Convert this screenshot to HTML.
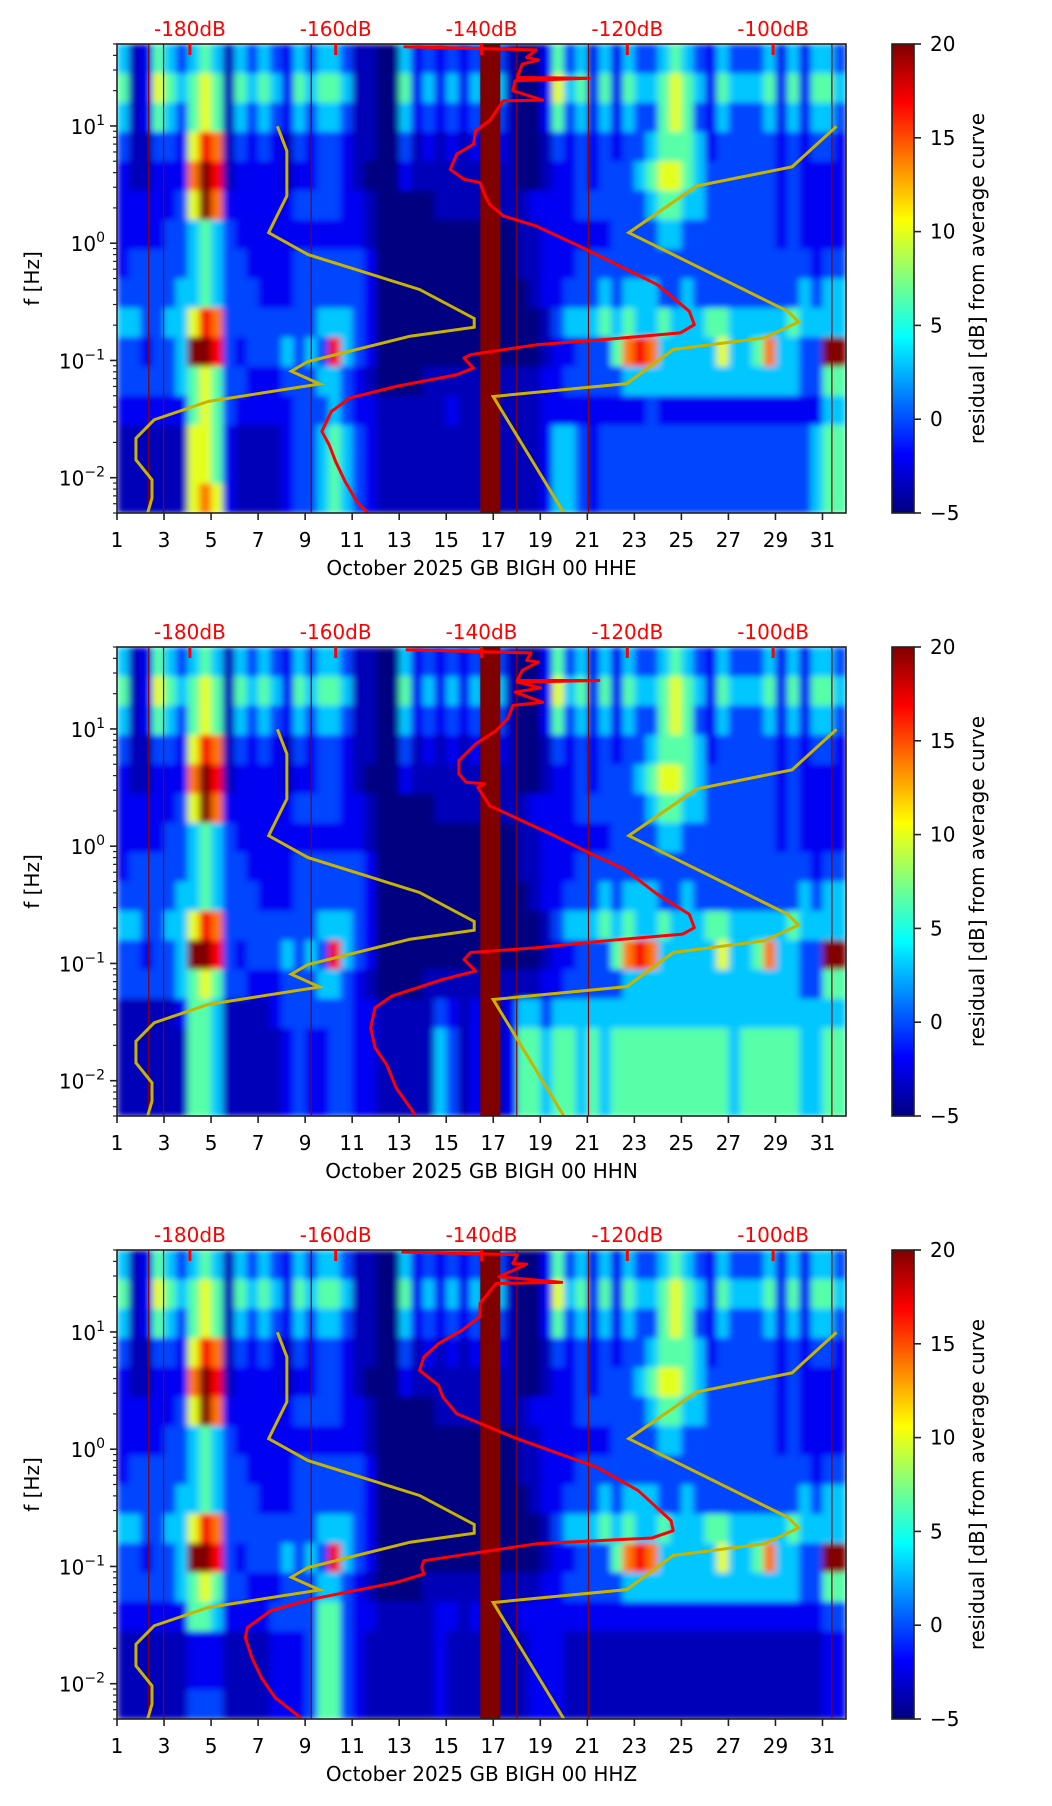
<!DOCTYPE html>
<html><head><meta charset="utf-8"><style>
html,body{margin:0;padding:0;background:#fff;}
svg{display:block;font-family:"DejaVu Sans","Liberation Sans",sans-serif;}
</style></head>
<body>
<svg id="fig" width="1052" height="1806" viewBox="0 0 1052 1806" xmlns="http://www.w3.org/2000/svg">
<defs>
<filter id="soft" x="0" y="0" width="1" height="1"><feGaussianBlur stdDeviation="3.5 3"/></filter>
<linearGradient id="jetgrad" x1="0" y1="1" x2="0" y2="0"></linearGradient>
</defs>
</svg>
<script>
// ---- data ----
const channels = ["HHE", "HHN", "HHZ"];
const levelValues = [-5, -3.6, -2.2, -0.2, 3, 6.5, 10, 14, 17, 20];
const xTickDays = [1,3,5,7,9,11,13,15,17,19,21,23,25,27,29,31];
const dbTicks = [-180, -160, -140, -120, -100];
const yTickExps = [-2, -1, 0, 1];
const cbTicks = [-5, 0, 5, 10, 15, 20];
const gapDays = [16.45, 17.3];
const thinLineDays = [2.35, 2.98, 9.26, 18.0, 21.05, 31.4];
// heatmap rows (top = 50 Hz, each row 1/4 decade), 62 half-day columns, digit = level index
const rowsShared = [
"4125434541"+"4343243443"+"1100423232"+"3131002534"+"2424334543"+"2433342424"+"43",
"5126545651"+"5454254554"+"1100524242"+"4141002645"+"2525445654"+"2544452525"+"54",
"4125435651"+"4343243443"+"1100423232"+"3131002534"+"2424335653"+"2433342424"+"43",
"3113326871"+"3232132332"+"1100312121"+"2121001323"+"2323345554"+"2333332323"+"32",
"2112227981"+"2222122332"+"1000211111"+"1111001223"+"2333456654"+"3333332322"+"22",
"2222236972"+"2222233332"+"2100000111"+"1111122223"+"3333345544"+"3333332322"+"22",
"2222334543"+"2222222222"+"2100000000"+"0000112222"+"2233334433"+"3333332322"+"22",
"2333334543"+"3222233333"+"3200000000"+"0000112223"+"3333333333"+"3333333332"+"33",
"3333344543"+"3322233333"+"3200000000"+"0000012233"+"3434443343"+"3333333343"+"44",
"4433446873"+"3333333444"+"3200000000"+"0000001344"+"4545445444"+"5544444544"+"44",
"3323349983"+"2333434384"+"3200000000"+"0000001223"+"3357874444"+"4644574433"+"99",
"3333345653"+"3222333443"+"2100001111"+"1111112233"+"3334444444"+"4444444433"+"55"
];
const rowsLowHHE = [
"2222225653"+"2222233343"+"2211111121"+"1111112222"+"2222232222"+"2222222222"+"44",
"1111116652"+"1111233454"+"3211111111"+"1111112443"+"2333333333"+"3333333334"+"55",
"1111116652"+"1111233454"+"3211111111"+"1111112443"+"2333333333"+"3333333334"+"55",
"1111116762"+"1111233454"+"3211111111"+"1111112443"+"2333333333"+"3333333334"+"55"
];
const rowsLowHHN = [
"1111125541"+"1112333333"+"2211111321"+"2112443444"+"4444444444"+"4444444444"+"44",
"1111115541"+"1111232233"+"2211111431"+"2112554554"+"5455555555"+"5545555544"+"55",
"1111115541"+"1111232233"+"2211111431"+"2112554554"+"5455555555"+"5545555544"+"55",
"1111115541"+"1111232233"+"2211111431"+"2112554554"+"5455555555"+"5545555544"+"55"
];
const rowsLowHHZ = [
"2222225542"+"2223333553"+"2211111221"+"2111222222"+"2222222222"+"2222222222"+"33",
"1111112221"+"1112223553"+"2111111211"+"1111122211"+"1111111111"+"1111111111"+"22",
"1111112221"+"1112223553"+"2111111211"+"1111122211"+"1111111111"+"1111111111"+"22",
"1111113331"+"1112223553"+"2111111211"+"1111122211"+"1111111111"+"1111111111"+"22"
];
// average PSD curves (red): dB and frequency (Hz)
const redDbHHE = [-150.7,-132.5,-133.8,-132.2,-134.4,-135.1,-125.2,-135.4,-135.7,-131.6,-137.0,-138.9,-140.8,-141.1,-143.4,-144.3,-142.4,-140.2,-139.6,-138.9,-137.0,-132.5,-126.1,-121.0,-115.9,-111.5,-110.8,-112.7,-123.0,-132.5,-141.5,-142.4,-141.1,-143.4,-151.7,-158.1,-160.6,-161.9,-160.9,-160.0,-158.7,-157.1,-155.5];
const redFHHE = [47.4,44.5,38.4,36.5,33.7,25.9,25.5,24.3,20.0,16.6,16.4,11.1,9.08,6.98,5.74,4.27,3.51,3.29,2.61,2.15,1.71,1.40,0.914,0.637,0.444,0.263,0.202,0.172,0.151,0.136,0.112,0.105,0.0861,0.0755,0.0601,0.0478,0.0367,0.0248,0.0191,0.0137,0.00926,0.00625,0.00497];
const redDbHHN = [-150.4,-133.2,-133.8,-132.2,-134.4,-135.1,-123.9,-135.1,-131.9,-135.4,-131.6,-135.7,-136.4,-138.0,-140.8,-143.1,-143.1,-142.1,-139.6,-140.5,-138.9,-136.4,-130.0,-124.9,-120.4,-115.9,-111.5,-110.8,-112.4,-123.0,-132.5,-141.5,-142.4,-140.8,-145.3,-152.3,-154.6,-155.2,-154.6,-153.0,-151.7,-149.1];
const redFHHN = [47.4,44.5,38.4,37.2,31.6,25.9,25.9,25.1,22.4,20.6,16.9,15.9,12.2,9.70,7.46,5.37,4.13,3.51,3.40,3.18,2.22,1.88,1.23,0.857,0.637,0.390,0.263,0.202,0.178,0.156,0.136,0.124,0.108,0.0861,0.0731,0.0527,0.0419,0.0283,0.0191,0.0137,0.00867,0.00513];
const redDbHHZ = [-151.0,-135.1,-135.7,-133.8,-137.6,-129.0,-138.0,-140.2,-140.2,-142.7,-145.9,-147.9,-148.5,-145.9,-145.3,-143.4,-135.7,-124.2,-118.5,-114.0,-113.7,-116.6,-132.5,-147.9,-148.2,-147.9,-151.7,-163.2,-168.9,-172.1,-172.4,-171.5,-170.2,-168.3,-164.8];
const redFHHZ = [48.1,45.6,38.4,37.9,29.6,26.5,25.9,17.5,13.5,10.3,7.96,6.12,4.71,3.51,2.79,2.01,1.27,0.703,0.444,0.246,0.202,0.175,0.156,0.112,0.0982,0.0861,0.0731,0.0527,0.0419,0.0302,0.0248,0.0167,0.0113,0.0076,0.00513];
// noise models (yellow)
const nlnmDb = [-168.0,-166.7,-166.7,-169.2,-163.8,-148.5,-141.0,-141.0,-149.8,-163.8,-166.1,-162.2,-177.5,-184.9,-187.4,-187.4,-185.2,-185.2,-185.8];
const nlnmF = [9.93,6.12,2.53,1.23,0.80,0.403,0.228,0.192,0.161,0.098,0.081,0.063,0.0447,0.0312,0.0217,0.0142,0.0096,0.0067,0.005];
const nhnmDb = [-128.7,-138.4,-120.1,-113.7,-101.2,-96.5,-98.0,-119.8,-110.5,-97.4,-91.3];
const nhnmF = [0.005,0.0493,0.0634,0.124,0.156,0.213,0.263,1.23,3.07,4.48,9.93];

// ---- layout ----
const NS = "http://www.w3.org/2000/svg";
const svg = document.getElementById("fig");
const L = 117, W = 729, H = 469;
const panelTops = [44, 647, 1250];
const dayMin = 1, dayMax = 32, dbMin = -190, dbMax = -90, fMax = 50, fMin = 0.005;
const decades = Math.log10(fMax / fMin);

function jet(v) {
  let t = (v + 5) / 25; t = Math.max(0, Math.min(1, t));
  const c = x => Math.round(255 * Math.max(0, Math.min(1, x)));
  return `rgb(${c(1.5 - Math.abs(4*t-3))},${c(1.5 - Math.abs(4*t-2))},${c(1.5 - Math.abs(4*t-1))})`;
}
function mk(tag, attrs, parent) {
  const e = document.createElementNS(NS, tag);
  for (const k in attrs) e.setAttribute(k, attrs[k]);
  (parent || svg).appendChild(e);
  return e;
}
function txt(s, attrs, parent) { const e = mk("text", attrs, parent); e.textContent = s; return e; }

const grad = document.getElementById("jetgrad");
for (let i = 0; i <= 40; i++) {
  mk("stop", {offset: (i/40), "stop-color": jet(-5 + 25*i/40)}, grad);
}

const lowRows = [rowsLowHHE, rowsLowHHN, rowsLowHHZ];
const redDb = [redDbHHE, redDbHHN, redDbHHZ];
const redF = [redFHHE, redFHHN, redFHHZ];

panelTops.forEach((T, p) => {
  const xDay = d => L + (d - dayMin) / (dayMax - dayMin) * W;
  const xDb = db => L + (db - dbMin) / (dbMax - dbMin) * W;
  const yF = f => T + (Math.log10(fMax) - Math.log10(f)) / decades * H;

  const g = mk("g", {});
  
  
  const clipId = "clip" + p;
  const cp = mk("clipPath", {id: clipId}, g);
  mk("rect", {x: L, y: T, width: W, height: H}, cp);

  const heat = mk("g", {"clip-path": `url(#${clipId})`}, g);
  
  
  const cells = mk("g", {filter: "url(#soft)"}, heat);
  mk("rect", {x: L, y: T, width: W, height: H, fill: jet(-5)}, cells);
  const rows = rowsShared.concat(lowRows[p]);
  rows.forEach((row, r) => {
    const fHi = fMax / Math.pow(10, r * 0.25), fLo = fMax / Math.pow(10, (r + 1) * 0.25);
    for (let c = 0; c < row.length; c++) {
      const d0 = 1 + c / 2, d1 = d0 + 0.5;
      const el = mk("rect", {x: xDay(d0), y: yF(fHi), width: xDay(d1) - xDay(d0) + 0.6, height: yF(fLo) - yF(fHi) + 0.6, fill: jet(levelValues[+row[c]])}, cells);
      
      
    }
  });
  thinLineDays.forEach(d => {
    const ln = mk("line", {x1: xDay(d), x2: xDay(d), y1: T, y2: T + H, stroke: "#8b0000", "stroke-width": 1.2}, heat);
    
    
  });
  const gap = mk("rect", {x: xDay(gapDays[0]), y: T, width: xDay(gapDays[1]) - xDay(gapDays[0]), height: H, fill: "#800000"}, heat);
  
  

  const ptsL = nlnmDb.map((v, i) => xDb(v) + "," + yF(nlnmF[i])).join(" ");
  const nl = mk("polyline", {points: ptsL, fill: "none", stroke: "#c8b400", "stroke-width": 3}, heat);
  
  
  const ptsH = nhnmDb.map((v, i) => xDb(v) + "," + yF(nhnmF[i])).join(" ");
  const nh = mk("polyline", {points: ptsH, fill: "none", stroke: "#c8b400", "stroke-width": 3}, heat);
  
  
  const ptsR = redDb[p].map((v, i) => xDb(v) + "," + yF(redF[p][i])).join(" ");
  const rc = mk("polyline", {points: ptsR, fill: "none", stroke: "#ff0000", "stroke-width": 3, "stroke-linejoin": "round"}, heat);
  
  

  const fr = mk("rect", {x: L, y: T, width: W, height: H, fill: "none", stroke: "#222", "stroke-width": 1.6}, g);
  
  

  dbTicks.forEach(db => {
    const x = xDb(db);
    const tk = mk("rect", {x: x - 1.5, y: T, width: 3, height: 11, fill: "#ff0000"}, g);
    
    
    const lb = txt(db + "dB", {x: x, y: T - 8, "text-anchor": "middle", "font-size": 20, fill: "#ff0000"}, g);
    
    
  });

  xTickDays.forEach(d => {
    const x = xDay(d);
    mk("line", {x1: x, x2: x, y1: T + H, y2: T + H + 7, stroke: "#222", "stroke-width": 1.6}, g);
    const lb = txt(String(d), {x: x, y: T + H + 34, "text-anchor": "middle", "font-size": 20, fill: "#000"}, g);
    
    
  });
  const xl = txt("October 2025 GB BIGH 00 " + channels[p], {x: L + W / 2, y: T + H + 62, "text-anchor": "middle", "font-size": 20, fill: "#000"}, g);
  
  

  for (let e = -3; e <= 1; e++) {
    for (let m = 1; m <= 9; m++) {
      const f = m * Math.pow(10, e);
      if (f < fMin - 1e-9 || f > fMax + 1e-9) continue;
      const y = yF(f);
      mk("line", {x1: L - (m === 1 ? 7 : 4), x2: L, y1: y, y2: y, stroke: "#222", "stroke-width": m === 1 ? 1.6 : 1.2}, g);
    }
  }
  yTickExps.forEach(e => {
    const y = yF(Math.pow(10, e));
    const t = txt("", {x: L - 12, y: y + 8, "text-anchor": "end", "font-size": 20, fill: "#000"}, g);
    
    
    const a = mk("tspan", {}, t); a.textContent = "10";
    const b = mk("tspan", {dy: -9, "font-size": 14}, t); b.textContent = e < 0 ? "\u2212" + (-e) : String(e);
  });
  const yl = txt("f [Hz]", {x: 0, y: 0, "text-anchor": "middle", "font-size": 20, fill: "#000", transform: `translate(39,${T + H / 2}) rotate(-90)`}, g);
  
  

  const cb = mk("g", {}, g);
  
  
  mk("rect", {x: 892, y: T, width: 22, height: H, fill: "url(#jetgrad)", stroke: "#222", "stroke-width": 1.6}, cb);
  cbTicks.forEach(v => {
    const y = T + H - (v + 5) / 25 * H;
    mk("line", {x1: 914, x2: 921, y1: y, y2: y, stroke: "#222", "stroke-width": 1.6}, cb);
    const lb = txt(v < 0 ? "\u2212" + (-v) : String(v), {x: 930, y: y + 7, "font-size": 20, fill: "#000"}, cb);
    
    
  });
  const cl = txt("residual [dB] from average curve", {x: 0, y: 0, "text-anchor": "middle", "font-size": 20, fill: "#000", transform: `translate(984,${T + H / 2}) rotate(-90)`}, cb);
  
  
});
</script>
</body></html>
